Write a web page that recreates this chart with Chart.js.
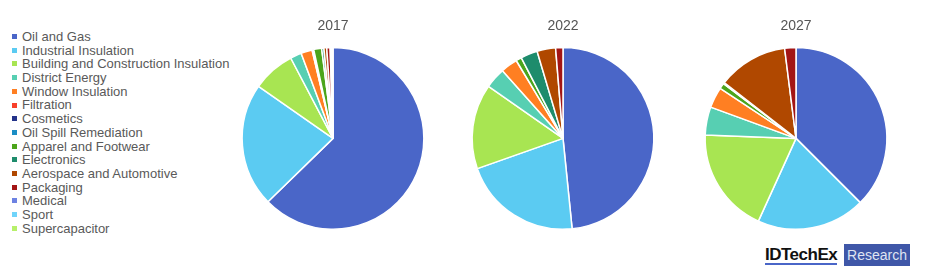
<!DOCTYPE html>
<html>
<head>
<meta charset="utf-8">
<script src="https://cdn.jsdelivr.net/npm/chart.js@4"></script>
<style>
  body { margin: 0; width: 940px; height: 266px; background: #fff; position: relative; overflow: hidden; font-family: "Liberation Sans", Arial, sans-serif; }
  canvas { position: absolute; }
  #legend { position: absolute; left: 12px; top: 30px; }
  #legend div { height: 13.7px; line-height: 13.7px; font-size: 13px; color: #595959; white-space: nowrap; }
  #legend span { display: inline-block; width: 5px; height: 5px; margin-right: 5px; vertical-align: middle; position: relative; top: -1px; }
  #logo { position: absolute; left: 765px; top: 244px; height: 22px; }
  #logo .id { position: absolute; left: 0; top: 2px; font-size: 17px; font-weight: bold; color: #111; letter-spacing: -0.5px; border-bottom: 2px solid #4a66c8; line-height: 17px; }
  #logo .rs { position: absolute; left: 79px; top: 0; width: 66px; height: 22px; background: #3f57a8; color: #dfe4f2; font-size: 14px; line-height: 22px; text-align: center; }
</style>
</head>
<body>
<div id="legend"></div>
<canvas id="c2017" width="200" height="220" style="left:233px;top:10px"></canvas>
<canvas id="c2022" width="200" height="220" style="left:463px;top:10px"></canvas>
<canvas id="c2027" width="200" height="220" style="left:696px;top:10px"></canvas>
<div id="logo"><span class="id">IDTechEx</span><span class="rs">Research</span></div>
<script>
const categories = ['Oil and Gas', 'Industrial Insulation', 'Building and Construction Insulation',
  'District Energy', 'Window Insulation', 'Filtration', 'Cosmetics', 'Oil Spill Remediation',
  'Apparel and Footwear', 'Electronics', 'Aerospace and Automotive', 'Packaging', 'Medical',
  'Sport', 'Supercapacitor'];
const colors = ['#4a66c8', '#5bcbf2', '#a8e552', '#57cfb2', '#ff7f22', '#f8402a', '#24338a',
  '#1b8dc4', '#4ca51b', '#1e8c6c', '#b04800', '#a31515', '#6d82e2', '#70d4fa', '#b7f06a'];
const years = ['2017', '2022', '2027'];
const share2017 = [62.7, 22.0, 7.6, 2.0, 2.0, 0.1, 0.1, 0.1, 1.4, 0.4, 0.5, 0.6, 0.2, 0.2, 0.1];
const share2022 = [48.4, 21.2, 15.1, 3.7, 3.0, 0, 0, 0, 1.0, 3.0, 3.3, 1.3, 0, 0, 0];
const share2027 = [37.5, 19.3, 18.8, 5.0, 3.7, 0, 0, 0, 1.0, 0.2, 12.5, 2.0, 0, 0, 0];
const shares = [share2017, share2022, share2027];

// legend
const legend = document.getElementById('legend');
categories.forEach(function(name, i) {
  const row = document.createElement('div');
  row.innerHTML = '<span style="background:' + colors[i] + '"></span>' + name;
  legend.appendChild(row);
});

years.forEach(function(year, k) {
  const ctx = document.getElementById('c' + year).getContext('2d');
  new Chart(ctx, {
    type: 'pie',
    data: {
      labels: categories,
      datasets: [{
        data: shares[k],
        backgroundColor: colors,
        borderColor: '#fff',
        borderWidth: 1.5
      }]
    },
    options: {
      responsive: false,
      animation: false,
      layout: { padding: 0 },
      plugins: {
        legend: { display: false },
        tooltip: { enabled: false },
        title: {
          display: true,
          text: year,
          color: '#555',
          font: { size: 14, family: '"Liberation Sans", Arial, sans-serif', weight: 'normal' },
          padding: { top: 8, bottom: 12 }
        }
      }
    }
  });
});
</script>
</body>
</html>
